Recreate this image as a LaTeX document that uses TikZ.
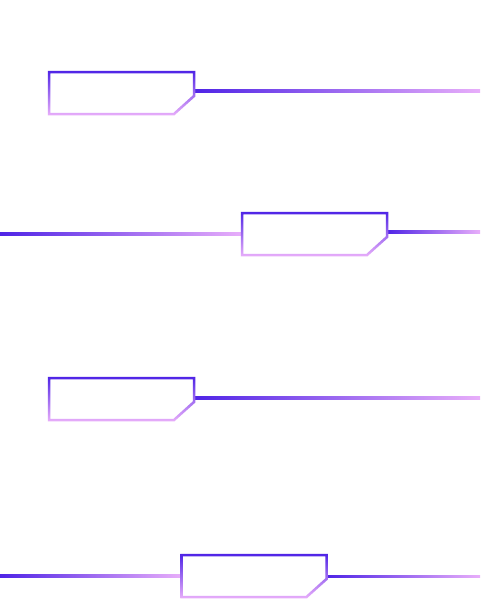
\documentclass[tikz,border=0pt]{standalone}
\usepackage{xcolor}
\usepackage{tikz}
\usetikzlibrary{positioning,calc}
\definecolor{violetA}{HTML}{4F24E6}
\definecolor{lilacB}{HTML}{E8AEFA}
\tikzset{
  frame/.style={minimum width=145pt, minimum height=42pt, inner sep=0pt, outer sep=0pt},
  wire/.style={left color=violetA, right color=lilacB},
  edge/.style={top color=violetA, bottom color=lilacB, even odd rule}
}
% outline with a chamfered lower right corner, shaded top to bottom
\newcommand{\chambox}[1]{%
  \shade[edge]
    ([shift={(-1.25pt,1.25pt)}]#1.north west) -- ([shift={(1.25pt,1.25pt)}]#1.north east)
    -- ([shift={(1.25pt,17.4pt)}]#1.south east) -- ([shift={(-19.5pt,-1.25pt)}]#1.south east)
    -- ([shift={(-1.25pt,-1.25pt)}]#1.south west) -- cycle
    ([shift={(1.25pt,-1.25pt)}]#1.north west) -- ([shift={(-1.25pt,-1.25pt)}]#1.north east)
    -- ([shift={(-1.25pt,18.6pt)}]#1.south east) -- ([shift={(-20.5pt,1.25pt)}]#1.south east)
    -- ([shift={(1.25pt,1.25pt)}]#1.south west) -- cycle;}
\newcommand{\wirebar}[2]{%
  \shade[wire] ([yshift=1.2pt]#1) rectangle ([yshift=-1.2pt]#2);}

\begin{document}
\begin{tikzpicture}[x=1pt, y=-1pt]
  \path[use as bounding box, fill=white] (0,0) rectangle (480,614);

  \node[frame] (b1) at (121.5,93) {};
  \node[frame] (b2) at (314.5,234) {};
  \node[frame] (b3) at (121.5,399) {};
  \node[frame] (b4) at (254,576) {};

  \coordinate (r1) at (480,91);
  \coordinate (l2) at (0,234);
  \coordinate (r2) at (480,232);
  \coordinate (r3) at (480,398);
  \coordinate (l4) at (0,576);
  \coordinate (r4) at (480,576.5);

  \coordinate (s1) at (b1.east |- r1);
  \coordinate (s2) at (b2.west |- l2);
  \coordinate (t2) at (b2.east |- r2);
  \coordinate (s3) at (b3.east |- r3);
  \coordinate (s4) at (b4.west |- l4);
  \coordinate (t4) at (b4.east |- r4);

  \wirebar{s1}{r1}
  \wirebar{l2}{s2}
  \wirebar{t2}{r2}
  \wirebar{s3}{r3}
  \wirebar{l4}{s4}
  \wirebar{t4}{r4}

  \chambox{b1}
  \chambox{b2}
  \chambox{b3}
  \chambox{b4}
\end{tikzpicture}
\end{document}
